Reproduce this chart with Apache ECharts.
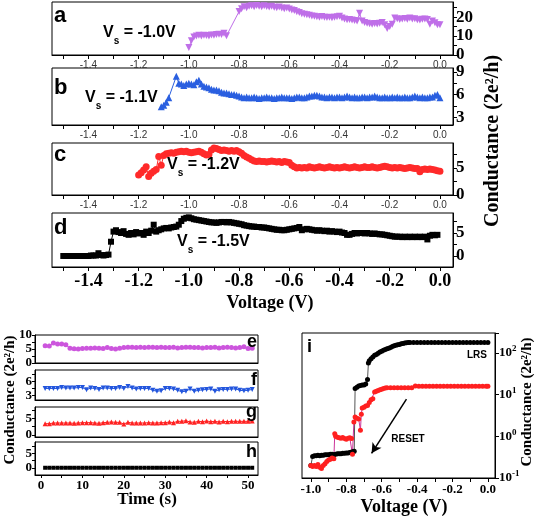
<!DOCTYPE html>
<html><head><meta charset="utf-8">
<script src="https://cdn.jsdelivr.net/npm/echarts@6/dist/echarts.min.js"></script>
<style>html,body{margin:0;padding:0;background:#fff}#c{width:539px;height:516px}</style>
</head><body><div id="c"></div>
<script>
// ---------- tick / label values ----------
const voltTicks = [-1.5,-1.4,-1.3,-1.2,-1.1,-1.0,-0.9,-0.8,-0.7,-0.6,-0.5,-0.4,-0.3,-0.2,-0.1,0.0];
const voltLabels = [-1.4,-1.2,-1.0,-0.8,-0.6,-0.4,-0.2,0.0];
const iVoltTicks = [-1.0,-0.9,-0.8,-0.7,-0.6,-0.5,-0.4,-0.3,-0.2,-0.1,0.0];
const iVoltLabels = [-1.0,-0.8,-0.6,-0.4,-0.2,0.0];
const timeTicks = [0,5,10,15,20,25,30,35,40,45,50];
const timeLabels = [0,10,20,30,40,50];

// ---------- panel a (Vs = -1.0 V) ----------
const seriesA = [[-1.00,4.0],[-0.99,7.5],[-0.98,9.5],[-0.97,10.0],[-0.96,10.5],[-0.95,10.0],[-0.94,10.5],[-0.93,10.3],[-0.92,10.0],[-0.91,10.6],[-0.90,10.4],[-0.89,10.8],[-0.88,11.0],[-0.87,10.8],[-0.86,11.5],[-0.85,10.2],
[-0.80,23.0],[-0.79,24.5],[-0.78,25.5],[-0.77,25.0],[-0.76,25.8],[-0.75,26.0],[-0.74,25.5],[-0.73,26.2],[-0.72,25.8],[-0.71,25.5],[-0.70,26.0],[-0.69,25.6],[-0.68,25.4],[-0.67,25.8],[-0.66,25.2],[-0.65,25.0],[-0.64,25.3],[-0.63,24.8],[-0.62,24.5],[-0.61,24.8],[-0.60,24.3],[-0.59,23.8],[-0.58,23.5],[-0.57,22.8],[-0.56,22.5],[-0.55,21.8],[-0.54,21.5],[-0.53,21.2],[-0.52,21.0],[-0.51,20.6],[-0.50,20.5],[-0.49,20.2],[-0.48,20.0],[-0.47,20.3],[-0.46,20.0],[-0.45,19.8],[-0.44,20.0],[-0.43,19.7],[-0.42,19.9],[-0.41,20.2],[-0.40,20.5],[-0.39,19.5],[-0.38,19.0],[-0.37,18.6],[-0.36,18.8],[-0.35,18.5],[-0.34,18.2],[-0.33,18.0],[-0.32,22.0],[-0.31,18.0],[-0.30,17.2],[-0.29,16.8],[-0.28,16.5],[-0.27,16.3],[-0.26,16.6],[-0.25,16.4],[-0.24,16.8],[-0.23,17.2],[-0.22,16.0],[-0.21,14.0],[-0.20,15.0],[-0.19,16.2],[-0.18,19.5],[-0.17,19.2],[-0.16,18.8],[-0.15,19.0],[-0.14,19.3],[-0.13,18.9],[-0.12,19.5],[-0.11,19.0],[-0.10,19.2],[-0.09,18.6],[-0.08,18.5],[-0.07,18.9],[-0.06,19.0],[-0.05,18.7],[-0.04,16.2],[-0.03,18.0],[-0.02,17.0],[-0.01,16.0],[0.00,16.0]];

// ---------- panel b (Vs = -1.1 V) ----------
const seriesB = [[-1.11,4.4],[-1.10,4.6],[-1.09,5.0],[-1.08,5.6],[-1.05,8.4],[-1.04,7.5],[-1.03,7.4],[-1.02,7.2],[-1.01,7.4],[-1.00,7.5],[-0.99,7.4],[-0.98,7.3],[-0.97,7.7],[-0.96,7.9],[-0.95,7.4],[-0.94,7.1],[-0.93,7.0],[-0.92,6.9],[-0.91,6.7],[-0.90,6.6],[-0.89,6.6],[-0.88,6.5],[-0.87,6.3],[-0.86,6.2],[-0.85,6.2],[-0.84,6.1],[-0.83,6.0],[-0.82,6.0],[-0.81,5.9],[-0.80,5.8],
[-0.79,5.7],[-0.78,5.6],[-0.77,5.7],[-0.76,5.6],[-0.75,5.6],[-0.74,5.7],[-0.73,5.6],[-0.72,5.5],[-0.71,5.6],[-0.70,5.6],[-0.69,5.7],[-0.68,5.6],[-0.67,5.6],[-0.66,5.5],[-0.65,5.6],[-0.64,5.6],[-0.63,5.7],[-0.62,5.6],[-0.61,5.6],[-0.60,5.6],[-0.59,5.5],[-0.58,5.6],[-0.57,5.7],[-0.56,5.7],[-0.55,5.6],[-0.54,5.6],[-0.53,5.7],[-0.52,5.8],[-0.51,5.8],[-0.50,5.9],[-0.49,5.9],[-0.48,5.8],
[-0.47,5.7],[-0.46,5.7],[-0.45,5.6],[-0.44,5.7],[-0.43,5.7],[-0.42,5.6],[-0.41,5.7],[-0.40,5.7],[-0.39,5.6],[-0.38,5.7],[-0.37,5.8],[-0.36,5.7],[-0.35,5.6],[-0.34,5.7],[-0.33,5.6],[-0.32,5.6],[-0.31,5.7],[-0.30,5.7],[-0.29,5.6],[-0.28,5.7],[-0.27,5.7],[-0.26,5.8],[-0.25,5.7],[-0.24,5.6],[-0.23,5.6],[-0.22,5.7],[-0.21,5.6],[-0.20,5.6],[-0.19,5.7],[-0.18,5.6],[-0.17,5.7],[-0.16,5.6],[-0.15,5.6],[-0.14,5.7],[-0.13,5.6],[-0.12,5.6],[-0.11,5.7],[-0.10,5.8],[-0.09,5.7],[-0.08,5.6],[-0.07,5.7],[-0.06,5.6],[-0.05,5.6],[-0.04,5.7],[-0.03,5.7],[-0.02,5.9],[-0.01,6.0],[0.00,5.6]];

// ---------- panel c (Vs = -1.2 V) ----------
const seriesC = [[-1.20,3.7],[-1.19,4.1],[-1.18,4.6],[-1.17,5.2],[-1.16,3.4],[-1.15,4.0],[-1.14,4.4],[-1.13,4.7],[-1.12,7.1],[-1.11,5.5],[-1.10,7.3],[-1.09,7.6],[-1.08,7.7],[-1.07,7.8],[-1.06,7.7],[-1.05,7.9],[-1.04,8.0],[-1.03,8.1],[-1.02,8.0],[-1.01,8.1],[-1.00,7.9],[-0.99,7.8],[-0.98,7.9],[-0.97,8.0],[-0.96,8.1],[-0.95,7.9],[-0.94,7.6],[-0.93,7.4],[-0.92,7.5],[-0.91,8.3],[-0.90,8.7],[-0.89,8.6],[-0.88,8.4],[-0.87,8.2],[-0.86,8.3],[-0.85,8.2],[-0.84,8.1],[-0.83,8.2],[-0.82,8.1],[-0.81,8.2],[-0.80,8.0],[-0.79,7.7],[-0.78,7.3],[-0.77,7.0],[-0.76,6.8],[-0.75,6.5],[-0.74,6.3],[-0.73,6.2],[-0.72,6.3],[-0.71,6.2],[-0.70,6.2],[-0.69,6.1],[-0.68,6.2],[-0.67,6.3],[-0.66,6.2],[-0.65,6.1],[-0.64,6.2],[-0.63,6.0],[-0.62,6.2],[-0.61,6.1],[-0.60,6.0],[-0.59,5.5],[-0.58,5.2],[-0.57,5.0],[-0.56,5.1],[-0.55,5.0],
[-0.54,5.1],[-0.53,5.0],[-0.52,5.2],[-0.51,5.1],[-0.50,5.0],[-0.49,5.1],[-0.48,5.2],[-0.47,5.1],[-0.46,5.0],[-0.45,5.1],[-0.44,5.2],[-0.43,5.1],[-0.42,5.0],[-0.41,5.1],[-0.40,5.0],[-0.39,5.1],[-0.38,5.2],[-0.37,5.1],[-0.36,5.0],[-0.35,5.1],[-0.34,5.2],[-0.33,5.1],[-0.32,5.0],[-0.31,5.1],[-0.30,5.2],[-0.29,5.1],[-0.28,5.1],[-0.27,5.2],[-0.26,5.1],[-0.25,5.0],[-0.24,5.1],[-0.23,5.2],[-0.22,5.3],[-0.21,5.2],[-0.20,5.1],[-0.19,5.0],[-0.18,5.1],[-0.17,5.0],[-0.16,5.1],[-0.15,5.0],[-0.14,4.9],[-0.13,5.0],[-0.12,5.1],[-0.11,5.0],[-0.10,4.9],[-0.09,4.9],[-0.08,4.3],[-0.07,4.7],[-0.06,4.8],[-0.05,4.7],[-0.04,4.8],[-0.03,4.7],[-0.02,4.6],[-0.01,4.5],[0.00,4.4]];

// ---------- panel d (Vs = -1.5 V) ----------
const seriesD = [[-1.50,0.0],[-1.49,0.0],[-1.48,0.0],[-1.47,0.0],[-1.46,0.0],[-1.45,0.0],[-1.44,0.0],[-1.43,0.0],[-1.42,0.0],[-1.41,0.0],[-1.40,0.0],[-1.39,0.1],[-1.38,0.1],[-1.37,0.1],[-1.36,0.6],[-1.35,0.2],[-1.34,0.1],[-1.33,0.2],[-1.32,0.3],[-1.31,3.1],[-1.30,5.3],[-1.29,5.6],[-1.28,5.2],[-1.27,5.0],[-1.26,5.4],[-1.25,4.8],[-1.24,4.6],[-1.23,5.0],[-1.22,4.7],[-1.21,5.2],[-1.20,4.9],[-1.19,5.0],[-1.18,4.6],[-1.17,5.3],[-1.16,5.0],[-1.15,5.5],[-1.14,6.8],[-1.13,5.3],[-1.12,5.6],[-1.11,5.8],[-1.10,6.0],[-1.09,6.1],[-1.08,6.0],[-1.07,6.2],[-1.06,6.3],[-1.05,6.4],[-1.04,6.8],[-1.03,7.6],[-1.02,8.1],[-1.01,8.3],[-1.00,8.4],[-0.99,8.2],[-0.98,8.0],[-0.97,7.9],[-0.96,7.8],[-0.95,7.7],[-0.94,7.6],[-0.93,7.5],[-0.92,7.4],[-0.91,7.3],[-0.90,7.3],[-0.89,7.2],[-0.88,7.3],[-0.87,7.4],[-0.86,7.4],[-0.85,7.3],[-0.84,7.4],[-0.83,7.3],[-0.82,7.2],[-0.81,7.1],[-0.80,7.0],[-0.79,6.9],[-0.78,6.7],[-0.77,6.6],[-0.76,6.5],[-0.75,6.4],[-0.74,6.4],[-0.73,6.3],[-0.72,6.3],[-0.71,6.2],[-0.70,6.2],[-0.69,6.1],[-0.68,6.0],[-0.67,5.9],[-0.66,5.8],[-0.65,5.7],[-0.64,5.7],[-0.63,5.6],[-0.62,5.6],[-0.61,5.7],[-0.60,5.8],[-0.59,5.9],[-0.58,6.0],[-0.57,6.1],[-0.56,6.3],[-0.55,5.6],[-0.54,5.8],[-0.53,5.9],[-0.52,5.8],[-0.51,5.7],[-0.50,5.6],[-0.49,5.5],[-0.48,5.6],[-0.47,5.5],[-0.46,5.4],[-0.45,5.5],[-0.44,5.3],[-0.43,5.4],[-0.42,5.3],[-0.41,5.2],[-0.40,5.3],[-0.39,5.1],[-0.38,5.0],[-0.37,4.6],[-0.36,4.6],[-0.35,4.8],[-0.34,5.0],[-0.33,4.9],[-0.32,5.0],[-0.31,5.0],[-0.30,4.9],[-0.29,5.0],[-0.28,4.9],[-0.27,4.8],[-0.26,4.9],[-0.25,4.8],[-0.24,4.7],[-0.23,4.7],[-0.22,4.6],[-0.21,4.5],[-0.20,4.4],[-0.19,4.3],[-0.18,4.2],[-0.17,4.2],[-0.16,4.2],[-0.15,4.1],[-0.14,4.2],[-0.13,4.1],[-0.12,4.2],[-0.11,4.1],[-0.10,4.2],[-0.09,4.1],[-0.08,4.2],[-0.07,4.1],[-0.06,4.2],[-0.05,3.6],[-0.04,4.4],[-0.03,4.6],[-0.02,4.5],[-0.01,4.6]];

// ---------- panels e-h (time traces) ----------
const timeS = [1,2,3,4,5,6,7,8,9,10,11,12,13,14,15,16,17,18,19,20,21,22,23,24,25,26,27,28,29,30,31,32,33,34,35,36,37,38,39,40,41,42,43,44,45,46,47,48,49,50,51];
const valsE = [6.2,6.1,7.1,6.8,6.8,6.5,5.3,5.1,5.0,5.2,5.3,5.3,5.4,5.3,5.2,5.5,5.2,5.0,5.3,5.5,5.6,5.6,5.5,5.6,5.5,5.6,5.6,5.5,5.6,5.5,5.5,5.6,5.4,5.5,5.6,5.6,5.5,5.5,5.4,5.5,5.5,5.6,5.4,5.5,5.6,5.5,5.4,5.5,5.8,5.2,5.3];
const valsF = [4.5,4.5,4.5,4.5,4.7,4.6,4.6,4.6,4.7,4.7,4.2,4.6,4.5,4.3,4.6,4.6,4.5,4.5,4.7,4.5,4.9,4.6,4.4,4.5,4.5,4.5,4.1,3.9,4.0,4.5,4.5,4.4,4.1,3.8,3.9,4.4,3.9,4.1,4.2,4.3,4.4,3.9,4.2,4.3,4.3,4.4,4.4,4.1,4.0,4.1,4.3];
const valsG = [3.4,3.4,3.6,3.6,3.6,3.6,3.6,3.5,3.6,3.7,3.7,3.7,3.6,3.5,3.7,3.8,3.9,3.8,3.8,3.3,3.8,3.6,3.6,3.6,3.6,3.7,3.6,3.6,3.7,3.7,3.9,3.7,4.1,4.1,4.3,3.9,3.8,4.1,4.0,4.2,4.0,4.1,3.9,4.1,4.0,4.1,4.1,4.1,4.1,4.1,4.2];
const valsH = [0,0,0,0,0,0,0,0,0,0,0,0,0,0,0,0,0,0,0,0,0,0,0,0,0,0,0,0,0,0,0,0,0,0,0,0,0,0,0,0,0,0,0,0,0,0,0,0,0,0,0];

// ---------- panel i (RESET, log scale) ----------
const seriesLRS = [[-1.00,0.20],[-0.99,0.33],[-0.98,0.34],[-0.97,0.34],[-0.96,0.35],[-0.95,0.34],[-0.94,0.35],[-0.93,0.35],[-0.92,0.36],[-0.91,0.36],[-0.90,0.36],[-0.89,0.37],[-0.88,0.37],[-0.87,0.36],[-0.86,0.37],[-0.85,0.38],[-0.84,0.38],[-0.83,0.38],[-0.82,0.39],[-0.81,0.39],[-0.80,0.40],[-0.79,0.40],[-0.78,0.41],[-0.77,0.42],[-0.76,0.43],[-0.755,0.44],[-0.75,14],[-0.74,15],[-0.73,16],[-0.72,16.5],[-0.71,17],[-0.70,17],[-0.69,18],[-0.68,23],[-0.675,57],[-0.67,65],[-0.66,72],[-0.65,80],[-0.64,88],[-0.63,92],[-0.62,98],[-0.61,105],[-0.60,110],[-0.59,115],[-0.58,120],[-0.57,125],[-0.56,130],[-0.55,135],[-0.54,142],[-0.53,148],[-0.52,152],[-0.51,156],[-0.50,160],[-0.49,165],[-0.48,168],[-0.47,172],[-0.46,175],[-0.45,177],[-0.44,178],[-0.42,178],[-0.40,178],[-0.38,178],[-0.36,178],[-0.34,178],[-0.32,178],[-0.30,178],[-0.28,178],[-0.26,178],[-0.24,178],[-0.22,178],[-0.20,178],[-0.18,178],[-0.16,178],[-0.14,178],[-0.12,178],[-0.10,178],[-0.08,178],[-0.06,178],[-0.04,178],[-0.02,178],[0.00,178]];
const seriesRESET = [[-1.00,0.20],[-0.99,0.19],[-0.98,0.20],[-0.97,0.19],[-0.96,0.21],[-0.95,0.18],[-0.94,0.17],[-0.93,0.20],[-0.92,0.22],[-0.91,0.25],[-0.90,0.27],[-0.89,0.28],[-0.88,0.30],[-0.87,0.29],[-0.865,1.15],[-0.86,1.0],[-0.85,0.95],[-0.84,0.92],[-0.83,0.90],[-0.82,0.93],[-0.81,0.88],[-0.80,0.85],[-0.79,0.90],[-0.78,0.92],[-0.77,0.88],[-0.765,0.37],[-0.757,2.2],[-0.75,2.9],[-0.74,2.7],[-0.73,2.6],[-0.72,1.4],[-0.715,3.4],[-0.71,4.8],[-0.70,5.0],[-0.69,5.3],[-0.68,5.5],[-0.67,6.5],[-0.66,7.5],[-0.65,8.0],[-0.64,11.5],[-0.63,12.0],[-0.62,12.5],[-0.61,13.0],[-0.60,13.5],[-0.59,14.0],[-0.58,14.3],[-0.57,14.5],[-0.55,14.5],[-0.53,14.5],[-0.51,14.5],[-0.49,14.5],[-0.47,14.5],[-0.45,14.6],[-0.43,14.6],[-0.41,16.0],[-0.39,15.8],[-0.37,15.8],[-0.35,15.8],[-0.33,15.8],[-0.31,15.8],[-0.29,15.8],[-0.27,15.8],[-0.25,15.8],[-0.23,15.8],[-0.21,15.8],[-0.19,15.8],[-0.17,15.8],[-0.15,15.8],[-0.13,15.8],[-0.11,15.8],[-0.09,15.8],[-0.07,15.8],[-0.05,15.8],[-0.03,15.8],[-0.01,15.8],[0.00,15.8]];

// ---------- styling ----------
const SERIF = "'Liberation Serif','Times New Roman',serif";
const SANS = "'Liberation Sans',Arial,sans-serif";
const BLK = '#000';

function gridBox(pos){ return Object.assign({show:true, borderColor:BLK, borderWidth:1, containLabel:false}, pos); }
const grids = [
  gridBox({left:52, right:86, top:2, height:53}),    // a
  gridBox({left:52, right:86, top:68, height:57}),   // b
  gridBox({left:52, right:86, top:143, height:52}),  // c
  gridBox({left:52, right:86, top:213, height:54}),  // d
  gridBox({left:35, right:281, top:335, height:28}), // e
  gridBox({left:35, right:281, top:370, height:30}), // f
  gridBox({left:35, right:281, top:407, height:30}), // g
  gridBox({left:35, right:281, top:442, height:33}), // h
  gridBox({left:302, right:44, top:333, height:145}) // i
];

function voltX(gi, big){
  return {gridIndex:gi, type:'value', min:-1.545, max:0.052,
    axisLine:{show:true, onZero:false, lineStyle:{color:BLK, width:1}},
    axisTick:{show:true, inside:false, length:4, customValues:voltTicks, lineStyle:{color:BLK}},
    axisLabel:{customValues:voltLabels, margin: big?5:5, formatter:v=>v.toFixed(1),
      color: big?BLK:'#333', fontSize: big?18:10, fontWeight: big?'bold':'normal', fontFamily: big?SERIF:SANS},
    splitLine:{show:false}};
}
function rightY(gi, min, max, ticks, labels){
  return {gridIndex:gi, type:'value', position:'right', min:min, max:max,
    axisLine:{show:true, onZero:false, lineStyle:{color:BLK}},
    axisTick:{show:true, inside:false, length:4, customValues:ticks, lineStyle:{color:BLK}},
    axisLabel:{customValues:labels, margin:3, formatter:v=>String(v), color:BLK, fontSize:17, fontWeight:'bold', fontFamily:SERIF},
    splitLine:{show:false}};
}
function timeX(gi, showLab){
  return {gridIndex:gi, type:'value', min:-1.45, max:52.4,
    axisLine:{show:true, onZero:false, lineStyle:{color:BLK}},
    axisTick:{show:showLab, inside:false, length:3, customValues:timeTicks, lineStyle:{color:BLK}},
    axisLabel:{show:showLab, customValues:timeLabels, margin:4, color:BLK, fontSize:13, fontWeight:'bold', fontFamily:SERIF},
    splitLine:{show:false}};
}
function leftY(gi, min, max, ticks, labels){
  return {gridIndex:gi, type:'value', position:'left', min:min, max:max,
    axisLine:{show:true, onZero:false, lineStyle:{color:BLK}},
    axisTick:{show:true, inside:false, length:3, customValues:ticks, lineStyle:{color:BLK}},
    axisLabel:{customValues:labels, margin:3, formatter:v=>String(v), color:BLK, fontSize:13, fontWeight:'bold', fontFamily:SERIF},
    splitLine:{show:false}};
}

const xAxes = [voltX(0,false), voltX(1,false), voltX(2,false), voltX(3,true),
  timeX(4,false), timeX(5,false), timeX(6,false), timeX(7,true),
  {gridIndex:8, type:'value', min:-1.05, max:0.04,
    axisLine:{show:true, onZero:false, lineStyle:{color:BLK}},
    axisTick:{show:true, inside:false, length:4, customValues:iVoltTicks, lineStyle:{color:BLK}},
    axisLabel:{customValues:iVoltLabels, margin:5, formatter:v=>v.toFixed(1), color:BLK, fontSize:13, fontWeight:'bold', fontFamily:SERIF},
    splitLine:{show:false}}];

const yAxes = [
  rightY(0, 0, 28, [0,5,10,15,20,25], [0,10,20]),
  rightY(1, 2, 9.5, [3,4.5,6,7.5,9], [3,6,9]),
  rightY(2, 0, 9.6, [0,2.5,5,7.5], [0,5]),
  rightY(3, -2.4, 9.35, [0,2.5,5,7.5], [0,5]),
  leftY(4, 0, 10, [0,2.5,5,7.5,10], [0,5,10]),
  leftY(5, 2, 8.5, [3,4.5,6,7.5], [3,6]),
  leftY(6, -0.6, 8.4, [0,2.5,5,7.5], [0,5]),
  leftY(7, -2.5, 8.9, [0,2.5,5,7.5], [0,5]),
  {gridIndex:8, type:'log', logBase:10, min:0.1, max:300, position:'right',
    axisLine:{show:true, onZero:false, lineStyle:{color:BLK}},
    axisTick:{show:true, inside:false, length:4, lineStyle:{color:BLK}},
    axisLabel:{margin:4, color:BLK, fontSize:13, fontWeight:'bold', fontFamily:SERIF,
      formatter:function(v){ const e=Math.log10(v); if(Math.abs(e-Math.round(e))>1e-6) return ''; return '10{s|'+Math.round(e)+'}'; },
      rich:{s:{fontSize:9, fontWeight:'bold', fontFamily:SERIF, color:BLK, padding:[0,0,8,0]}}},
    splitLine:{show:false}}
];

function lineSeries(xi, data, color, symbol, size, rot, lineColor){
  return {type:'line', xAxisIndex:xi, yAxisIndex:xi, data:data, symbol:symbol, symbolSize:size, symbolRotate:rot||0,
    showAllSymbol:true, itemStyle:{color:color}, lineStyle:{color:lineColor||color, width:1}, emphasis:{disabled:true}, animation:false, z:3};
}
const pair = (ys)=>timeS.map((t,i)=>[t, ys[i]]);

const series = [
  lineSeries(0, seriesA, '#bf6fe8', 'triangle', 7, 180),
  lineSeries(1, seriesB, '#2a5fe0', 'triangle', 7, 0),
  lineSeries(2, seriesC, '#ff2a2a', 'circle', 7, 0),
  lineSeries(3, seriesD, '#000000', 'rect', 6, 0),
  lineSeries(4, pair(valsE), '#cc55dd', 'circle', 5, 0),
  lineSeries(5, pair(valsF), '#2255dd', 'triangle', 5, 180),
  lineSeries(6, pair(valsG), '#ff2222', 'triangle', 5, 0),
  lineSeries(7, pair(valsH), '#000000', 'rect', 4, 0),
  Object.assign(lineSeries(8, seriesLRS, '#000000', 'circle', 5, 0, '#555'), {
    markLine:{silent:true, symbol:['none','arrow'], symbolSize:[8,10], animation:false,
      lineStyle:{color:BLK, width:1.5, type:'solid'}, label:{show:false},
      data:[[{coord:[-0.46,7.8]},{coord:[-0.657,0.39]}]]}}),
  lineSeries(8, seriesRESET, '#ff2020', 'circle', 5, 0, '#cc3399')
];

function txt(x, y, text, font, opts){
  return Object.assign({type:'text', x:x, y:y, silent:true, z:10,
    style:Object.assign({text:text, fill:BLK, font:font, textAlign:'left', textVerticalAlign:'middle'}, (opts&&opts.style)||{})},
    (opts&&opts.el)||{});
}
const vsRich = {sub:{fontSize:10, fontWeight:'bold', fontFamily:SANS, padding:[16,0,0,0]}};
function vsText(x, y, val){
  return {type:'text', x:x, y:y, silent:true, z:10,
    style:{text:'V{sub|s} = '+val, fill:BLK, fontSize:16, fontWeight:'bold', fontFamily:SANS, textVerticalAlign:'middle', rich:vsRich}};
}

const graphic = [
  txt(54, 16, 'a', "bold 22px "+SANS),
  txt(54, 88, 'b', "bold 22px "+SANS),
  txt(54, 155, 'c', "bold 22px "+SANS),
  txt(54, 228, 'd', "bold 22px "+SANS),
  vsText(103, 33, '-1.0V'),
  vsText(85, 98, '-1.1V'),
  vsText(167, 165, '-1.2V'),
  vsText(177, 242, '-1.5V'),
  txt(257, 342, 'e', "bold 18px "+SANS, {style:{textAlign:'right'}}),
  txt(257, 380, 'f', "bold 18px "+SANS, {style:{textAlign:'right'}}),
  txt(257, 412, 'g', "bold 18px "+SANS, {style:{textAlign:'right'}}),
  txt(257, 452, 'h', "bold 18px "+SANS, {style:{textAlign:'right'}}),
  txt(307, 347, 'i', "bold 18px "+SANS),
  txt(477, 355, 'LRS', "bold 10px "+SANS, {style:{textAlign:'center'}}),
  txt(408, 439, 'RESET', "bold 10px "+SANS, {style:{textAlign:'center'}}),
  txt(270, 303, 'Voltage (V)', "bold 18px "+SERIF, {style:{textAlign:'center'}}),
  txt(493, 141, 'Conductance (2e\u00B2/h)', "bold 20px "+SERIF, {style:{textAlign:'center'}, el:{rotation:Math.PI/2}}),
  txt(147, 500, 'Time (s)', "bold 17px "+SERIF, {style:{textAlign:'center'}}),
  txt(10, 400, 'Conductance (2e\u00B2/h)', "bold 15px "+SERIF, {style:{textAlign:'center'}, el:{rotation:Math.PI/2}}),
  txt(404, 507, 'Voltage (V)', "bold 18px "+SERIF, {style:{textAlign:'center'}}),
  txt(527, 402, 'Conductance (2e\u00B2/h)', "bold 15px "+SERIF, {style:{textAlign:'center'}, el:{rotation:Math.PI/2}})
];

const chart = echarts.init(document.getElementById('c'), null, {renderer:'canvas'});
chart.setOption({animation:false, backgroundColor:'#fff', grid:grids, xAxis:xAxes, yAxis:yAxes, series:series, graphic:graphic});
</script></body></html>
